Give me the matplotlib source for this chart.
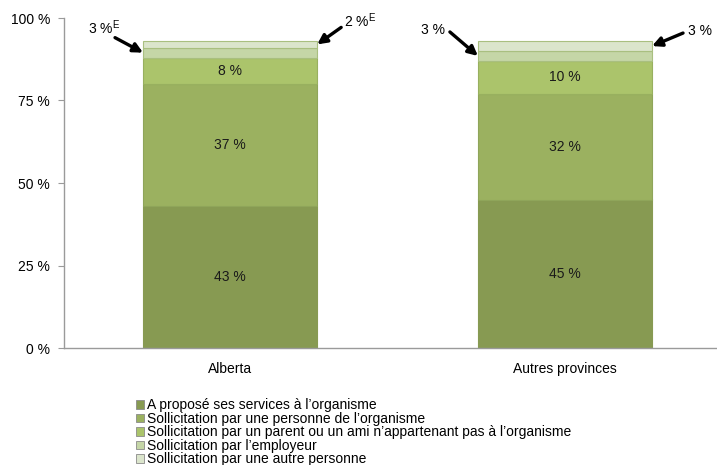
import numpy as np
import matplotlib
matplotlib.use("Agg")
import matplotlib.pyplot as plt

plt.rcParams['font.family'] = ['Liberation Sans', 'DejaVu Sans']
plt.rcParams['mathtext.fontset'] = 'custom'
plt.rcParams['mathtext.rm'] = 'Liberation Sans'

regions = ["Alberta", "Autres provinces"]
series = [
    "A proposé ses services à l’organisme",
    "Sollicitation par une personne de l’organisme",
    "Sollicitation par un parent ou un ami n’appartenant pas à l’organisme",
    "Sollicitation par l’employeur",
    "Sollicitation par une autre personne",
]
offered = [43, 45]
org_person = [37, 32]
friend = [8, 10]
employer = [3, 3]
other = [2, 3]
# small shares are called out with arrows instead of inline labels
small_labels = [["3 %$^{\\mathrm{E}}$", "2 %$^{\\mathrm{E}}$"], ["3 %", "3 %"]]

colors = ["#879a52", "#9bb160", "#abc46b", "#c5d6a7", "#dbe5cc"]
edges = ["#879a52", "#8fa55a", "#98b05f", "#a9bf80", "#a9bf80"]

fig = plt.figure(figsize=(7.17, 4.65), dpi=100)
ax = fig.add_axes([64 / 717, 1 - 348 / 465, 1 - 64 / 717, 330 / 465])

x = np.arange(len(regions))
width = 0.52
bottom = np.zeros(len(regions))
data = [offered, org_person, friend, employer, other]
for vals, name, c, ec in zip(data, series, colors, edges):
    vals = np.array(vals, dtype=float)
    ax.bar(x, vals, width, bottom=bottom, color=c, edgecolor=ec,
           linewidth=0.8, label=name)
    bottom += vals

# inline labels for the three big segments
base = np.zeros(len(regions))
for vals in data[:3]:
    vals = np.array(vals, dtype=float)
    for i in range(len(regions)):
        ax.text(x[i], base[i] + vals[i] / 2, f"{vals[i]:.0f} %",
                ha="center", va="center", fontsize=10, color="#1a1a1a")
    base += vals

# callouts: employer share on the left edge, other share on the right edge
emp_mid = np.array(offered) + np.array(org_person) + np.array(friend) + np.array(employer) / 2
oth_mid = emp_mid + np.array(employer) / 2 + np.array(other) / 2
left_tail = [(-28, 15), (-28, 24)]
left_text = [(-23, 25), (-33, 26)]
right_tail = [(24, 17), (31, 13)]
right_text = [(27, 24), (36, 15)]
arrow = dict(arrowstyle="-|>", color="black", lw=2.4, mutation_scale=14,
             shrinkA=0, shrinkB=0)


def callout(xy, label, tail, text_off, ha):
    ax.annotate("", xy=xy, xytext=tail, textcoords="offset pixels",
                arrowprops=arrow)
    ax.annotate(label, xy=xy, xytext=text_off, textcoords="offset pixels",
                ha=ha, va="center", fontsize=10)


for i in range(len(regions)):
    callout((x[i] - width / 2, emp_mid[i]), small_labels[i][0],
            left_tail[i], left_text[i], "right")
    callout((x[i] + width / 2, oth_mid[i]), small_labels[i][1],
            right_tail[i], right_text[i], "left")

ax.set_xlim(-0.496, 1.454)
ax.set_ylim(0, 100)
ax.set_yticks([0, 25, 50, 75, 100])
ax.set_yticklabels([f"{t} %" for t in [0, 25, 50, 75, 100]], fontsize=10)
ax.set_xticks(x)
ax.set_xticklabels(regions, fontsize=10)
ax.tick_params(axis="x", length=0, pad=10)
ax.tick_params(axis="y", length=4, color="#9a9a9a", pad=6)
for s in ["top", "right"]:
    ax.spines[s].set_visible(False)
for s in ["left", "bottom"]:
    ax.spines[s].set_color("#9a9a9a")
    ax.spines[s].set_linewidth(1)

handles, labels = ax.get_legend_handles_labels()
leg = fig.legend(handles, labels, loc="upper left",
                 bbox_to_anchor=(136 / 717, 1 - 398.5 / 465),
                 frameon=False, fontsize=10, handlelength=0.6, handleheight=0.6,
                 handletextpad=0.2, labelspacing=-0.04, borderpad=0,
                 borderaxespad=0)
for h in leg.legend_handles:
    h.set_edgecolor("#8a8a8a")
    h.set_linewidth(0.6)

fig.savefig("out.png", dpi=100)
